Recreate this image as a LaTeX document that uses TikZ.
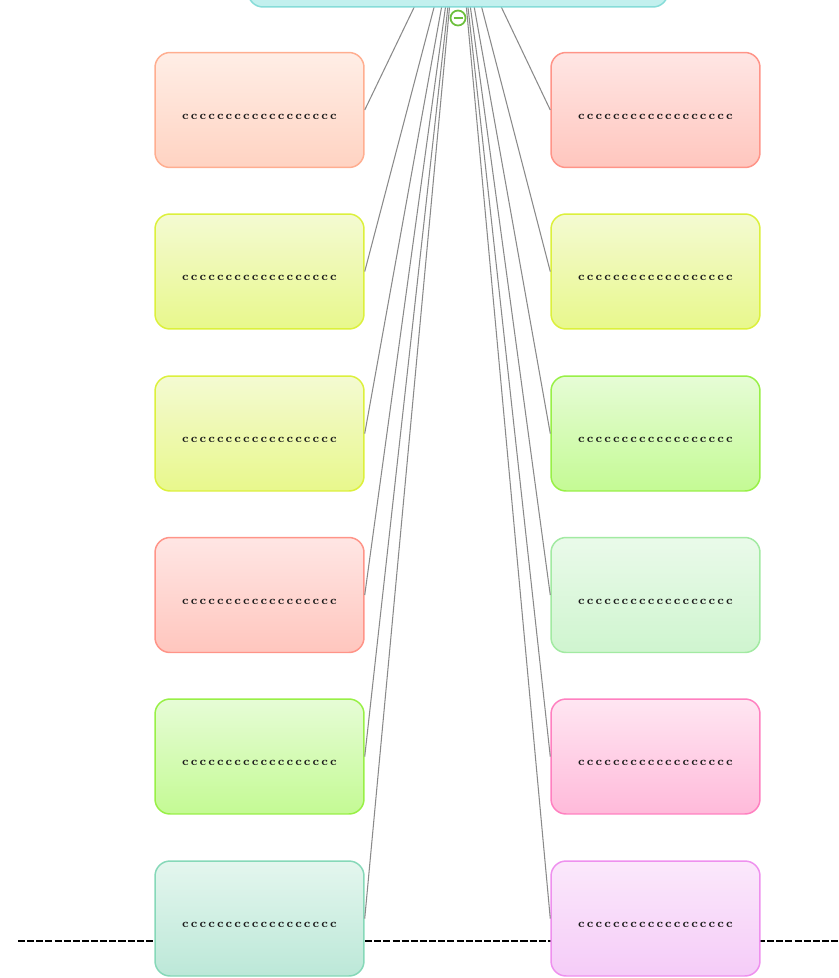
\documentclass[tikz,border=0pt]{standalone}
\usepackage{tikz}

\definecolor{rootfill}{HTML}{C2F0EE}
\definecolor{rootline}{HTML}{86DCD8}
\definecolor{foldline}{HTML}{6CBF3C}
\definecolor{wirecol}{HTML}{8A8A8A}

\tikzset{
  topic/.style={draw, rounded corners=0.3cm, line width=0.85pt,
    minimum width=4.18cm, minimum height=2.3cm, inner sep=0pt,
    text height=0.37cm, text depth=0cm,
    font=\fontsize{6.6}{7}\selectfont\bfseries, text=black!90},
  peach/.style={topic, draw={rgb,255:red,255;green,174;blue,144},
    top color={rgb,255:red,255;green,238;blue,230}, bottom color={rgb,255:red,255;green,211;blue,194}},
  lime/.style={topic, draw={rgb,255:red,220;green,240;blue,60},
    top color={rgb,255:red,244;green,250;blue,210}, bottom color={rgb,255:red,232;green,248;blue,140}},
  rose/.style={topic, draw={rgb,255:red,255;green,148;blue,136},
    top color={rgb,255:red,255;green,230;blue,228}, bottom color={rgb,255:red,255;green,198;blue,190}},
  grass/.style={topic, draw={rgb,255:red,152;green,240;blue,70},
    top color={rgb,255:red,230;green,252;blue,214}, bottom color={rgb,255:red,196;green,250;blue,148}},
  mint/.style={topic, draw={rgb,255:red,134;green,216;blue,184},
    top color={rgb,255:red,228;green,246;blue,238}, bottom color={rgb,255:red,188;green,232;blue,216}},
  sage/.style={topic, draw={rgb,255:red,162;green,234;blue,162},
    top color={rgb,255:red,234;green,250;blue,234}, bottom color={rgb,255:red,207;green,245;blue,207}},
  candy/.style={topic, draw={rgb,255:red,255;green,128;blue,192},
    top color={rgb,255:red,255;green,230;blue,242}, bottom color={rgb,255:red,255;green,186;blue,218}},
  lilac/.style={topic, draw={rgb,255:red,238;green,144;blue,238},
    top color={rgb,255:red,251;green,232;blue,251}, bottom color={rgb,255:red,245;green,204;blue,248}},
  link/.style={draw=wirecol, line width=0.6pt}
}

\newcommand{\filler}{\foreach \k in {1,...,18}{\makebox[4.95pt]{c}}}

\begin{document}
\begin{tikzpicture}[x=0.02cm, y=-0.02cm]
  \useasboundingbox (0,0) rectangle (839,978);
  % baseline behind the boxes
  \coordinate (ls) at (18,941);
  \coordinate (le) at (839,941);
  \draw [line width=0.9pt, dash pattern=on 4pt off 1.2pt] (ls) -- (le);

  \coordinate (hub) at (458,-84);

  % left column
  \node[peach] (l1) at (259.5,110) {\filler};
  \node[lime]  (l2) at (259.5,271.5) {\filler};
  \node[lime]  (l3) at (259.5,433.5) {\filler};
  \node[rose]  (l4) at (259.5,595) {\filler};
  \node[grass] (l5) at (259.5,756.5) {\filler};
  \node[mint]  (l6) at (259.5,918.5) {\filler};

  % right column
  \node[rose]  (r1) at (655.5,110) {\filler};
  \node[lime]  (r2) at (655.5,271.5) {\filler};
  \node[grass] (r3) at (655.5,433.5) {\filler};
  \node[sage]  (r4) at (655.5,595) {\filler};
  \node[candy] (r5) at (655.5,756.5) {\filler};
  \node[lilac] (r6) at (655.5,918.5) {\filler};

  \draw [link] (hub) -- (l1.east);
  \draw [link] (hub) -- (l2.east);
  \draw [link] (hub) -- (l3.east);
  \draw [link] (hub) -- (l4.east);
  \draw [link] (hub) -- (l5.east);
  \draw [link] (hub) -- (l6.east);
  \draw [link] (hub) -- (r1.west);
  \draw [link] (hub) -- (r2.west);
  \draw [link] (hub) -- (r3.west);
  \draw [link] (hub) -- (r4.west);
  \draw [link] (hub) -- (r5.west);
  \draw [link] (hub) -- (r6.west);

  % root, mostly off the page
  \node[draw=rootline, fill=rootfill, line width=0.85pt, rounded corners=0.3cm,
        minimum width=8.4cm, minimum height=3.64cm] (root) at (hub) {};
  \node[circle, draw=foldline, fill=white, line width=1pt, minimum size=0.3cm,
        inner sep=0pt] (fold) at (458,18) {};
  \draw [foldline, line width=1.2pt] ([xshift=-0.09cm]fold.center) -- ([xshift=0.09cm]fold.center);
\end{tikzpicture}
\end{document}
